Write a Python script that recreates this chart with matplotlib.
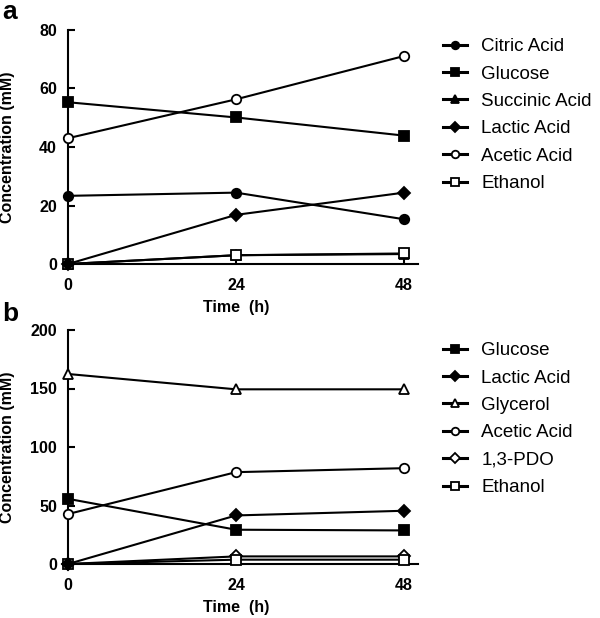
import matplotlib
matplotlib.use('Agg')
import matplotlib.pyplot as plt

plt.rcParams['font.family'] = ['Liberation Sans', 'DejaVu Sans']

# time points (h)
time_h = [0, 24, 48]

# panel a
a_labels = ['Citric Acid', 'Glucose', 'Succinic Acid', 'Lactic Acid', 'Acetic Acid', 'Ethanol']
a_citric = [23.3, 24.4, 15.3]
a_glucose = [55.3, 50.1, 43.9]
a_succinic = [0.0, 3.0, 3.4]
a_lactic = [0.0, 16.8, 24.4]
a_acetic = [43.0, 56.3, 71.1]
a_ethanol = [0.0, 3.0, 3.6]

# panel b
b_labels = ['Glucose', 'Lactic Acid', 'Glycerol', 'Acetic Acid', '1,3-PDO', 'Ethanol']
b_glucose = [55.7, 29.3, 28.7]
b_lactic = [0.0, 41.5, 45.5]
b_glycerol = [162.4, 149.3, 149.3]
b_acetic = [42.7, 78.5, 81.9]
b_pdo = [0.0, 6.5, 6.5]
b_ethanol = [0.0, 3.7, 3.7]

# marker, filled?
styles = {
    'Citric Acid': ('o', True),
    'Glucose': ('s', True),
    'Succinic Acid': ('^', True),
    'Lactic Acid': ('D', True),
    'Acetic Acid': ('o', False),
    'Ethanol': ('s', False),
    'Glycerol': ('^', False),
    '1,3-PDO': ('D', False),
}

W, H = 600, 618
fig = plt.figure(figsize=(6.0, 6.18), dpi=100)


def draw_panel(ax, labels, series, ymax, yticks, letter, leg_xy, letter_xy):
    for name, vals in zip(labels, series):
        mk, filled = styles[name]
        ms = 6.0 if mk == 'D' else 6.8
        # lactic acid sits on top, it hides the other markers at t=0
        z = 4 if name == 'Lactic Acid' else 3
        ax.plot(time_h, vals, color='black', lw=1.5, marker=mk, ms=ms,
                mfc='black' if filled else 'white', mec='black', mew=1.3,
                label=name, clip_on=False, zorder=z)
    ax.set_xlim(0, 50)
    ax.set_ylim(0, ymax)
    ax.set_xticks(time_h)
    ax.set_yticks(yticks)
    for s in ['top', 'right']:
        ax.spines[s].set_visible(False)
    for s in ['left', 'bottom']:
        ax.spines[s].set_linewidth(1.5)
    ax.tick_params(direction='in', length=5, width=1.5, labelsize=11.5)
    ax.tick_params(axis='x', pad=10)
    ax.tick_params(axis='y', pad=8)
    for t in ax.get_xticklabels() + ax.get_yticklabels():
        t.set_fontweight('bold')
    ax.set_xlabel('Time  (h)', fontsize=11.5, fontweight='bold')
    ax.xaxis.set_label_coords(24 / 50, -0.152)
    ax.set_ylabel('Concentration (mM)', fontsize=11.5, fontweight='bold')
    ax.yaxis.set_label_coords(-0.151, 0.5)
    fig.text(letter_xy[0] / W, 1 - letter_xy[1] / H, letter, fontsize=19,
             fontweight='bold', ha='left', va='center')
    leg = ax.legend(loc='upper left', bbox_to_anchor=(leg_xy[0] / W, 1 - leg_xy[1] / H),
                    bbox_transform=fig.transFigure, frameon=False, fontsize=13.5,
                    handlelength=1.3, handletextpad=0.75, labelspacing=0.55,
                    borderpad=0, borderaxespad=0, markerscale=0.8)
    for h in leg.get_lines():
        h.set_linewidth(2.2)


ax_a = fig.add_axes([68 / W, 1 - 264 / H, 350 / W, 234 / H])
draw_panel(ax_a, a_labels,
           [a_citric, a_glucose, a_succinic, a_lactic, a_acetic, a_ethanol],
           80, [0, 20, 40, 60, 80], 'a', (443, 38), (2, 12))

ax_b = fig.add_axes([68 / W, 1 - 564 / H, 350 / W, 234 / H])
draw_panel(ax_b, b_labels,
           [b_glucose, b_lactic, b_glycerol, b_acetic, b_pdo, b_ethanol],
           200, [0, 50, 100, 150, 200], 'b', (443, 342), (2, 314))

fig.savefig('out.png', dpi=100)
